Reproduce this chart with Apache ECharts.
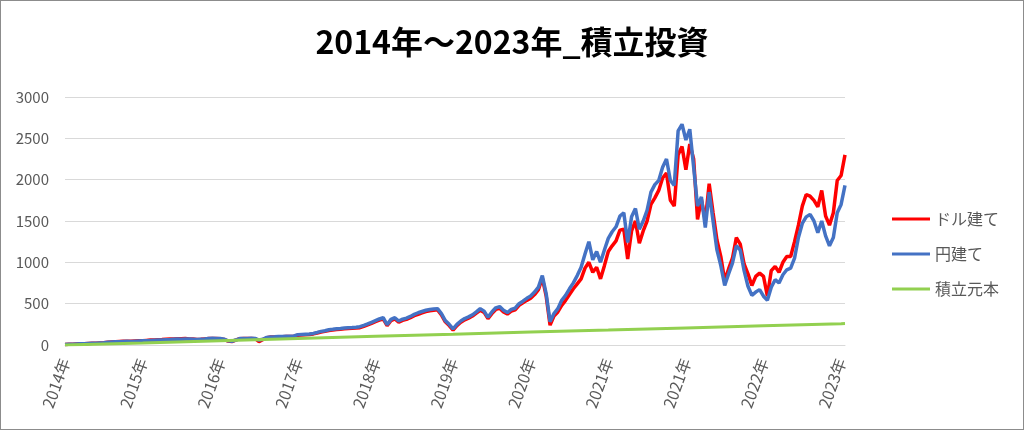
<!DOCTYPE html>
<html>
<head>
<meta charset="utf-8">
<script src="https://cdn.jsdelivr.net/npm/echarts@6/dist/echarts.min.js"></script>
<style>
  html, body { margin: 0; padding: 0; background: #fff; }
  #chart { width: 1024px; height: 430px; box-sizing: border-box; border: 1px solid #8c8c8c; }
</style>
</head>
<body>
<div id="chart"></div>
<script>
// x軸の目盛りラベル (20点ごと)
const xLabels = ['2014年', '2015年', '2016年', '2017年', '2018年', '2019年', '2020年', '2021年', '2021年', '2022年', '2023年'];
const seriesNames = ['ドル建て', '円建て', '積立元本'];

// ドル建て (202点)
const dollarValues = [
  5, 8, 10, 12, 14, 16, 18, 20, 22, 25, 28, 32, 36,
  40, 42, 44, 45, 44, 48, 50, 52, 56, 60, 62, 64, 66, 70, 72, 74, 76,
  76, 78, 74, 72, 68, 70, 74, 78, 80, 78,
  76, 68, 48, 42, 58, 76, 78, 78, 80, 76,
  40, 66, 88, 96, 98, 100, 100, 102, 104, 106,
  118, 122, 124, 126, 134, 146, 158, 165, 176, 180,
  186, 190, 195, 200, 202, 206, 210, 226, 244, 262,
  282, 300, 315, 235, 295, 315, 275, 298, 310, 330,
  355, 372, 390, 405, 415, 420, 425, 365, 280, 235,
  180, 235, 275, 305, 325, 350, 385, 420, 395, 320,
  380, 430, 445, 400, 375, 410, 425, 480, 510, 540,
  565, 610, 670, 810, 590, 240,
  350, 400, 480, 540, 610, 680, 740, 800, 930, 1000, 880, 940, 800, 960,
  1130, 1200, 1260, 1390, 1400, 1040, 1380, 1500, 1230, 1380, 1500, 1700, 1780, 1870, 2020, 2080, 1750, 1680,
  2300, 2400, 2120, 2430, 2250, 1520, 1760, 1500, 1950, 1600, 1270, 1070,
  780, 920, 1050, 1300, 1220, 980, 860, 720, 830, 870, 830, 590,
  900, 950, 880, 1000, 1070, 1070, 1250, 1450, 1680, 1820, 1800, 1750, 1670, 1870, 1560, 1450, 1600, 1990, 2050, 2300
];

// 円建て (202点)
const yenValues = [
  5, 8, 10, 12, 14, 16, 18, 20, 22, 25, 28, 32, 36,
  40, 40, 42, 44, 42, 46, 48, 50, 52, 55, 58, 60, 62, 64, 66, 70, 72,
  70, 74, 72, 70, 66, 70, 74, 80, 82, 80,
  78, 70, 50, 45, 60, 78, 80, 80, 82, 80,
  60, 70, 92, 98, 100, 104, 104, 106, 106, 110,
  125, 128, 130, 132, 140, 152, 165, 172, 185, 190,
  196, 200, 205, 210, 212, 216, 222, 238, 255, 275,
  295, 315, 330, 245, 310, 330, 290, 312, 325, 345,
  370, 390, 405, 420, 430, 436, 440, 380, 295, 250,
  195, 250, 290, 320, 340, 365, 400, 440, 410, 335,
  400, 450, 465, 420, 392, 430, 445, 500, 530, 565,
  592, 640, 700, 840, 620, 280,
  380, 440, 540, 600, 680, 752, 840, 940, 1100, 1250, 1030, 1130, 1000, 1150,
  1290, 1370, 1430, 1560, 1600, 1240, 1550, 1650, 1400, 1500, 1630, 1850, 1940, 1990, 2150, 2250, 1990, 1930,
  2590, 2670, 2480, 2610, 2150, 1680, 1790, 1420, 1850, 1500, 1150, 960,
  720, 860, 990, 1200, 1150, 900, 710, 600, 640, 670, 590, 540,
  700, 790, 750, 850, 910, 930, 1050, 1300, 1470, 1550, 1580, 1500, 1360, 1500, 1320, 1200, 1300, 1600, 1700, 1930
];

// 積立元本 (目盛りごと)
const principalIdx = [0, 20, 40, 60, 80, 100, 120, 140, 160, 180, 200, 201];
const principalValues = [0, 24, 52, 80, 106, 130, 156, 180, 206, 232, 258, 260];

const toPairs = arr => arr.map((v, i) => [i, v]);

const chart = echarts.init(document.getElementById('chart'));
const textColor = '#595959';
const font = '"Noto Sans CJK JP", "Noto Sans", sans-serif';

chart.setOption({
  animation: false,
  title: {
    text: '2014年～2023年_積立投資',
    left: 'center',
    top: 20,
    textStyle: { fontFamily: font, fontSize: 32, fontWeight: 'bold', color: '#000' }
  },
  legend: {
    orient: 'vertical',
    left: 886,
    top: 205,
    icon: 'rect',
    itemWidth: 38,
    itemHeight: 3,
    itemGap: 19,
    data: seriesNames,
    textStyle: { fontFamily: font, fontSize: 16, color: textColor }
  },
  grid: { left: 64, right: 178, top: 96, bottom: 84 },
  xAxis: {
    type: 'value',
    min: 0,
    max: 201,
    interval: 20,
    axisLine: { show: true, lineStyle: { color: '#d9d9d9' } },
    axisTick: { show: false },
    splitLine: { show: false },
    axisLabel: {
      rotate: 70,
      margin: 14,
      color: textColor,
      fontFamily: font,
      fontSize: 16,
      formatter: v => xLabels[Math.round(v / 20)] || ''
    }
  },
  yAxis: {
    type: 'value',
    min: 0,
    max: 3000,
    interval: 500,
    axisLine: { show: false },
    axisTick: { show: false },
    splitLine: { lineStyle: { color: '#d9d9d9' } },
    axisLabel: { margin: 16, color: textColor, fontFamily: font, fontSize: 15, formatter: v => String(v) }
  },
  series: [
    {
      name: seriesNames[0], type: 'line', symbol: 'none',
      lineStyle: { color: '#ff0000', width: 3.5 }, itemStyle: { color: '#ff0000' },
      data: toPairs(dollarValues)
    },
    {
      name: seriesNames[1], type: 'line', symbol: 'none',
      lineStyle: { color: '#4472c4', width: 3.5 }, itemStyle: { color: '#4472c4' },
      data: toPairs(yenValues)
    },
    {
      name: seriesNames[2], type: 'line', symbol: 'none',
      lineStyle: { color: '#92d050', width: 3 }, itemStyle: { color: '#92d050' },
      data: principalIdx.map((x, i) => [x, principalValues[i]])
    }
  ]
});
</script>
</body>
</html>
